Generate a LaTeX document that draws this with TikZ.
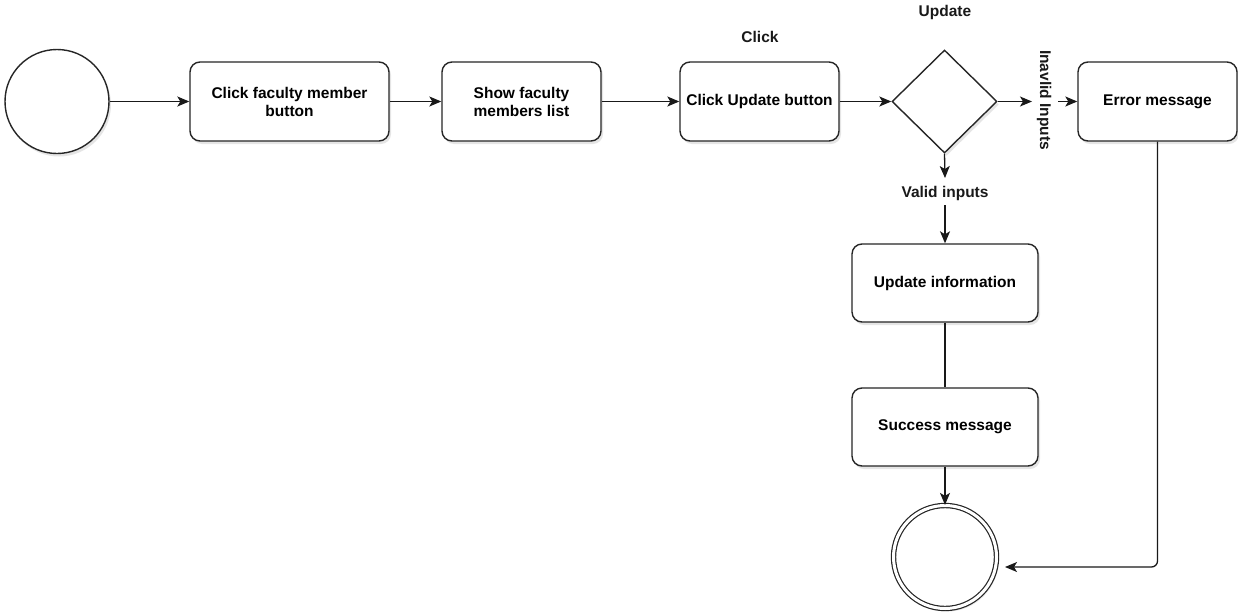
\documentclass[tikz,border=0pt]{standalone}
\usepackage{fontspec}
\setmainfont{Liberation Sans}
\usetikzlibrary{shapes.geometric,arrows.meta,shadows}
\begin{document}
\begin{tikzpicture}[x=1pt,y=-1pt,
  font=\bfseries\fontsize{15.5}{18}\selectfont,
  conn/.style={line width=1.3pt,draw=black!90},
  arr/.style={conn,-{Stealth[length=12pt,width=10pt,inset=3pt]}},
  shade/.style={drop shadow={opacity=0.2,shadow xshift=2pt,shadow yshift=-3pt}},
  act/.style={draw=black!85,line width=1.4pt,rounded corners=10pt,fill=white,
    minimum height=79pt,align=center,inner sep=2pt,shade},
  lbl/.style={inner sep=1pt,text=black!90}]
% canvas
\path[fill=white] (0,0) rectangle (1238,613);
% initial and final states
\node[circle,draw=black!85,line width=1.4pt,minimum size=104pt,fill=white,shade] (start) at (57,101.5) {};
\node[circle,draw=black!85,line width=1.2pt,double=white,double distance=3pt,fill=white,
  minimum size=103pt,shade] (end) at (945,557) {};
% activities
\node[act,minimum width=199pt] (b1) at (289.5,101.5) {Click faculty member\\button};
\node[act,minimum width=159pt] (b2) at (521.5,101.5) {Show faculty\\members list};
\node[act,minimum width=159pt] (b3) at (759.5,101.5) {Click Update button};
\node[act,minimum width=159pt] (err) at (1157.5,101.5) {Error message};
\node[act,minimum width=186pt,minimum height=78pt] (upd) at (945,283) {Update information};
\node[act,minimum width=186pt,minimum height=78pt] (suc) at (945,427) {Success message};
% decision
\node[diamond,draw=black!85,line width=1.4pt,fill=white,minimum width=105pt,
  minimum height=103pt,inner sep=0pt,shade] (d) at (944.5,101.5) {};
% labels
\node[lbl] (lclick) at (760,37) {Click};
\node[lbl] (lupd) at (945,12) {Update};
\node[lbl] (lvalid) at (945,193) {Valid inputs};
\node[lbl,rotate=-90] (linv) at (1044,100) {Inavlid Inputs};
% connector end points
\coordinate (ia) at (1032,101.5);
\coordinate (ib) at (1058,101.5);
\coordinate (va) at (945,178);
\coordinate (vb) at (945,205);
\coordinate (ep) at (1005,567);
% connectors
\draw[arr] (start) -- (b1);
\draw[arr] (b1) -- (b2);
\draw[arr] (b2) -- (b3);
\draw[arr] (b3) -- (d);
\draw[arr] (d.east) -- (ia);
\draw[arr] (ib) -- (err.west);
\draw[arr] (d.south) -- (va);
\draw[arr] (vb) -- (upd.north);
\draw[conn] (upd) -- (suc);
\draw[arr] (suc) -- (end);
\draw[arr,rounded corners=6pt] (err.south) |- (ep);
\end{tikzpicture}
\end{document}
